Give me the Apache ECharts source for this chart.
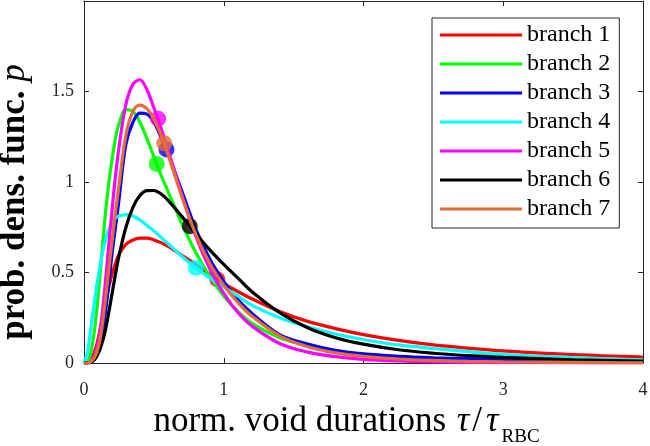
<!DOCTYPE html>
<html>
<head>
<meta charset="utf-8">
<script src="https://cdn.jsdelivr.net/npm/echarts@6/dist/echarts.min.js"></script>
<style>
html,body{margin:0;padding:0;background:#fff;}
#chart{width:650px;height:446px;}
</style>
</head>
<body>
<div id="chart"></div>
<script>
// normalized void durations (x samples)
const tau = [0, 0.025, 0.05, 0.075, 0.1, 0.125, 0.15, 0.175, 0.2, 0.225, 0.25, 0.3, 0.35, 0.4, 0.45, 0.5, 0.55, 0.6, 0.7, 0.8, 0.9, 1.0, 1.1, 1.2, 1.4, 1.6, 1.8, 2.0, 2.25, 2.5, 2.75, 3.0, 3.5, 4.0];
const branch1 = [0, 0.003, 0.02, 0.06, 0.13, 0.22, 0.32, 0.41, 0.49, 0.55, 0.6, 0.655, 0.68, 0.69, 0.69, 0.68, 0.665, 0.645, 0.595, 0.545, 0.49, 0.44, 0.395, 0.355, 0.285, 0.23, 0.19, 0.157, 0.125, 0.1, 0.082, 0.067, 0.046, 0.033];
const branch2 = [0, 0.005, 0.06, 0.18, 0.36, 0.58, 0.8, 0.98, 1.12, 1.24, 1.32, 1.4, 1.39, 1.33, 1.24, 1.14, 1.04, 0.95, 0.77, 0.61, 0.48, 0.37, 0.285, 0.22, 0.14, 0.095, 0.066, 0.048, 0.034, 0.025, 0.018, 0.014, 0.008, 0.005];
const branch3 = [0, 0, 0.005, 0.02, 0.06, 0.14, 0.26, 0.42, 0.6, 0.75, 0.9, 1.21, 1.33, 1.38, 1.375, 1.33, 1.25, 1.16, 0.95, 0.74, 0.575, 0.45, 0.35, 0.275, 0.157, 0.105, 0.07, 0.05, 0.037, 0.029, 0.024, 0.019, 0.012, 0.008];
const branch4 = [0, 0.06, 0.2, 0.34, 0.47, 0.58, 0.67, 0.73, 0.775, 0.8, 0.812, 0.82, 0.812, 0.79, 0.76, 0.73, 0.695, 0.66, 0.59, 0.526, 0.47, 0.42, 0.37, 0.32, 0.25, 0.2, 0.16, 0.13, 0.1, 0.08, 0.063, 0.047, 0.03, 0.018];
const branch5 = [0, 0, 0.01, 0.04, 0.11, 0.24, 0.42, 0.63, 0.84, 1.03, 1.19, 1.43, 1.54, 1.565, 1.51, 1.41, 1.3, 1.18, 0.93, 0.7, 0.52, 0.385, 0.28, 0.205, 0.108, 0.06, 0.035, 0.02, 0.011, 0.006, 0.003, 0.002, 0.001, 0];
const branch6 = [0, 0, 0.005, 0.02, 0.05, 0.1, 0.17, 0.27, 0.38, 0.49, 0.59, 0.75, 0.86, 0.925, 0.952, 0.953, 0.935, 0.9, 0.81, 0.715, 0.625, 0.545, 0.47, 0.395, 0.278, 0.195, 0.14, 0.104, 0.073, 0.054, 0.041, 0.031, 0.018, 0.01];
const branch7 = [0, 0, 0.008, 0.03, 0.08, 0.18, 0.33, 0.5, 0.67, 0.83, 0.98, 1.26, 1.39, 1.425, 1.405, 1.35, 1.26, 1.155, 0.92, 0.71, 0.55, 0.43, 0.335, 0.26, 0.15, 0.09, 0.056, 0.037, 0.022, 0.014, 0.009, 0.006, 0.003, 0.001];
// mean markers
const markerX = [0.955, 0.52, 0.59, 0.80, 0.53, 0.757, 0.574];
const markerY = [0.462, 1.10, 1.18, 0.526, 1.35, 0.756, 1.214];
const names = ['branch 1', 'branch 2', 'branch 3', 'branch 4', 'branch 5', 'branch 6', 'branch 7'];
const colors = ['#FF0000', '#00FF00', '#0000FF', '#00FFFF', '#FF00FF', '#000000', '#E66C37'];
const branches = [branch1, branch2, branch3, branch4, branch5, branch6, branch7];

const FONT = 'Liberation Serif';
const AX = '#262626';

const series = [];
branches.forEach((b, i) => {
  series.push({
    name: names[i],
    type: 'line',
    data: tau.map((x, k) => [x, b[k]]),
    smooth: 0.35,
    symbol: 'none',
    lineStyle: { color: colors[i], width: 3.2 },
    itemStyle: { color: colors[i] },
    z: 2 + i * 2
  });
  series.push({
    type: 'scatter',
    data: [[markerX[i], markerY[i]]],
    symbol: 'circle',
    symbolSize: 16,
    itemStyle: { color: colors[i] },
    z: 3 + i * 2
  });
});

const axisCommon = {
  axisLine: { show: true, onZero: false, lineStyle: { color: AX, width: 1 } },
  axisTick: { show: true, inside: true, length: 5, lineStyle: { color: AX, width: 1 } },
  splitLine: { show: false }
};

const chart = echarts.init(document.getElementById('chart'), null, { renderer: 'canvas' });
chart.setOption({
  animation: false,
  backgroundColor: '#fff',
  grid: { left: 84, right: 7, top: 1, bottom: 83, containLabel: false, outerBoundsMode: 'none' },
  legend: {
    data: names,
    orient: 'vertical',
    left: 432,
    top: 18,
    padding: [5, 9, 7, 8],
    itemGap: 5,
    itemWidth: 82,
    itemHeight: 3,
    itemTextGap: 8,
    icon: 'rect',
    borderColor: AX,
    borderWidth: 1,
    backgroundColor: '#fff',
    textStyle: { fontFamily: FONT, fontSize: 24, lineHeight: 24, color: '#000' }
  },
  xAxis: [
    Object.assign({}, axisCommon, {
      type: 'value', min: 0, max: 4, interval: 1, position: 'bottom',
      axisLabel: { fontFamily: FONT, fontSize: 18, color: AX, margin: 18 },
      name: '{n|norm. void durations }{t|τ}{sl|/}{t|τ}{s|RBC}',
      nameLocation: 'middle',
      nameGap: 35,
      nameTextStyle: {
        padding: [0, 34, 0, 0],
        rich: {
          n: { fontFamily: FONT, fontSize: 35, lineHeight: 36, color: '#000', verticalAlign: 'top' },
          t: { fontFamily: FONT, fontSize: 35, fontStyle: 'italic', lineHeight: 36, color: '#000', verticalAlign: 'top', padding: [0, 2, 0, 2] },
          sl: { fontFamily: FONT, fontSize: 35, lineHeight: 36, color: '#000', verticalAlign: 'top', padding: [0, 2, 0, 1] },
          s: { fontFamily: FONT, fontSize: 19, lineHeight: 19, color: '#000', verticalAlign: 'top', padding: [24, 0, 0, 1] }
        }
      }
    }),
    Object.assign({}, axisCommon, {
      type: 'value', min: 0, max: 4, interval: 1, position: 'top',
      axisLabel: { show: false }
    })
  ],
  yAxis: [
    Object.assign({}, axisCommon, {
      type: 'value', min: 0, max: 2, interval: 0.5, position: 'left',
      axisLabel: {
        fontFamily: FONT, fontSize: 18, color: AX, margin: 10,
        formatter: v => (v >= 2 ? '' : String(v))
      },
      name: '{b|prob. dens. func. }{p|p}',
      nameLocation: 'middle',
      nameGap: 52,
      nameTextStyle: {
        padding: [0, 40, 0, 0],
        rich: {
          b: { fontFamily: FONT, fontSize: 35, fontWeight: 'bold', lineHeight: 35, color: '#000' },
          p: { fontFamily: FONT, fontSize: 35, fontStyle: 'italic', lineHeight: 35, color: '#000' }
        }
      }
    }),
    Object.assign({}, axisCommon, {
      type: 'value', min: 0, max: 2, interval: 0.5, position: 'right',
      axisLabel: { show: false }
    })
  ],
  series: series
});
</script>
</body>
</html>
